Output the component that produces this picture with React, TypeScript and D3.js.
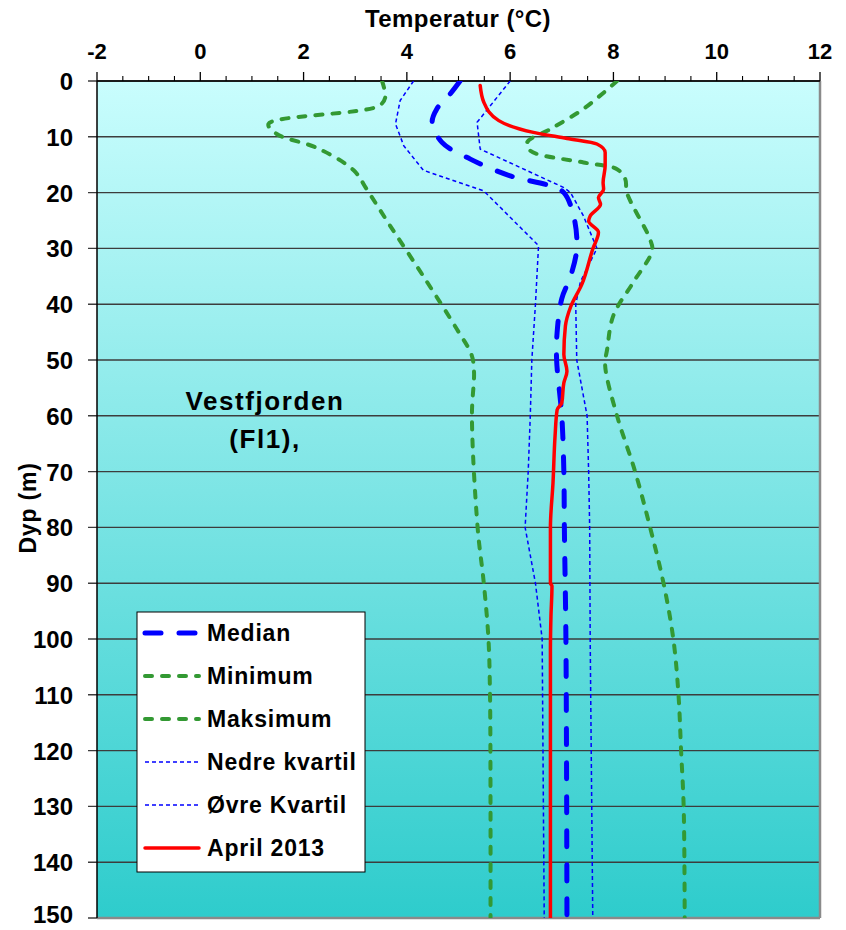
import * as d3 from 'd3'

const WIDTH = 846
const HEIGHT = 930
const PLOT = { left: 97, right: 820, top: 81, bottom: 918 }

const FONT = '"Liberation Sans", Arial, sans-serif'

const TEMP_TICKS = [-2, 0, 2, 4, 6, 8, 10, 12]
const DEPTH_TICKS = [0, 10, 20, 30, 40, 50, 60, 70, 80, 90, 100, 110, 120, 130, 140, 150]

// depth (m) / temperature (°C) pairs
const MEDIAN_DEPTH = [0, 2.3, 5, 7.4, 11, 14, 17, 18.8, 20, 24.2, 30, 35, 39, 45, 50, 60, 70, 80, 100, 150]
const MEDIAN_TEMP = [5.03, 4.84, 4.58, 4.49, 4.68, 5.23, 6.0, 6.78, 7.04, 7.23, 7.29, 7.17, 7.0, 6.91, 6.9, 7.0, 7.04, 7.05, 7.08, 7.1]

const MIN_DEPTH = [0, 3, 4.5, 7.7, 9.5, 12, 16, 19.5, 26, 35, 44.5, 49, 52, 60, 80, 90, 100, 110, 130, 150]
const MIN_TEMP = [3.52, 3.58, 3.45, 1.32, 1.48, 2.26, 2.97, 3.23, 3.68, 4.32, 4.97, 5.25, 5.3, 5.26, 5.37, 5.49, 5.58, 5.61, 5.62, 5.62]

const MAX_DEPTH = [0, 5, 8.6, 11, 12.5, 14.6, 15.8, 17.6, 20, 28.4, 30.4, 36, 42, 48, 51, 60, 70, 80, 90, 100, 110, 120, 130, 150]
const MAX_TEMP = [8.07, 7.42, 6.78, 6.33, 6.39, 7.42, 8.07, 8.23, 8.26, 8.71, 8.75, 8.39, 8.0, 7.88, 7.84, 8.07, 8.42, 8.71, 8.97, 9.16, 9.26, 9.31, 9.36, 9.38]

const LOWER_Q_DEPTH = [0, 3.5, 7.7, 11.6, 16, 19.7, 29.5, 40, 50, 60, 70, 80, 90, 100, 150]
const LOWER_Q_TEMP = [4.13, 3.87, 3.78, 3.94, 4.32, 5.49, 6.55, 6.49, 6.42, 6.39, 6.35, 6.29, 6.49, 6.62, 6.66]

const UPPER_Q_DEPTH = [0, 4.4, 7.4, 12.2, 19.1, 20, 24.2, 30, 36, 40, 50, 60, 70, 80, 100, 150]
const UPPER_Q_TEMP = [6.0, 5.62, 5.36, 5.42, 7.04, 7.17, 7.42, 7.68, 7.36, 7.27, 7.29, 7.49, 7.52, 7.54, 7.55, 7.6]

const APRIL_DEPTH = [0.8, 3.8, 7.1, 9.2, 10.3, 11.3, 12.8, 15.2, 18.2, 19.4, 20.9, 22.1, 24.2, 25.1, 27.1, 30.1, 36.4, 40.5, 43.9, 49, 52, 54.1, 57.7, 58.9, 63.6, 72, 80, 90, 90.5, 96, 102, 150]
const APRIL_TEMP = [5.42, 5.49, 5.78, 6.45, 7.1, 7.68, 7.84, 7.84, 7.8, 7.81, 7.71, 7.75, 7.55, 7.52, 7.71, 7.6, 7.39, 7.17, 7.07, 7.04, 7.1, 7.04, 7.0, 6.91, 6.87, 6.83, 6.78, 6.78, 6.81, 6.79, 6.78, 6.78]

const STYLES = {
  median: { stroke: '#0000ff', width: 5, dash: '16,18', cap: 'round' },
  green: { stroke: '#339933', width: 4, dash: '7,10', cap: 'round' },
  quartile: { stroke: '#0000ff', width: 1.5, dash: '4,3', cap: 'butt' },
  april: { stroke: '#ff0000', width: 3.5, dash: 'none', cap: 'round' }
}

const zip = (depth: number[], temp: number[]) => depth.map((d, i) => [d, temp[i]] as [number, number])

const SERIES = [
  { name: 'Minimum', pts: zip(MIN_DEPTH, MIN_TEMP), style: STYLES.green, curve: d3.curveCatmullRom },
  { name: 'Maksimum', pts: zip(MAX_DEPTH, MAX_TEMP), style: STYLES.green, curve: d3.curveCatmullRom },
  { name: 'Nedre kvartil', pts: zip(LOWER_Q_DEPTH, LOWER_Q_TEMP), style: STYLES.quartile, curve: d3.curveLinear },
  { name: 'Øvre Kvartil', pts: zip(UPPER_Q_DEPTH, UPPER_Q_TEMP), style: STYLES.quartile, curve: d3.curveLinear },
  { name: 'Median', pts: zip(MEDIAN_DEPTH, MEDIAN_TEMP), style: STYLES.median, curve: d3.curveCatmullRom },
  { name: 'April 2013', pts: zip(APRIL_DEPTH, APRIL_TEMP), style: STYLES.april, curve: d3.curveMonotoneY }
]

const LEGEND = [
  { label: 'Median', style: STYLES.median },
  { label: 'Minimum', style: STYLES.green },
  { label: 'Maksimum', style: STYLES.green },
  { label: 'Nedre kvartil', style: STYLES.quartile },
  { label: 'Øvre Kvartil', style: STYLES.quartile },
  { label: 'April 2013', style: STYLES.april }
]

export default function App() {
  const xScale = d3.scaleLinear().domain([-2, 12]).range([PLOT.left, PLOT.right])
  const yScale = d3.scaleLinear().domain([0, 150]).range([PLOT.top, PLOT.bottom])

  const minorTicks = d3.range(-2, 12.001, 0.5).filter(t => !TEMP_TICKS.includes(t))

  const lineFor = (curve: d3.CurveFactory) =>
    d3.line<[number, number]>()
      .x(d => xScale(d[1]))
      .y(d => yScale(d[0]))
      .curve(curve)

  const legendX = 137
  const legendY = 612
  const rowH = 43

  return (
    <div>
      <style>{`body{margin:0}`}</style>
      <svg width={WIDTH} height={HEIGHT} style={{ display: 'block' }}>
        <defs>
          <linearGradient id="bg" x1="0" y1="0" x2="0" y2="1">
            <stop offset="0%" stopColor="#c9fdfd" />
            <stop offset="100%" stopColor="#2ecccc" />
          </linearGradient>
          <clipPath id="plot-clip">
            <rect x={PLOT.left} y={PLOT.top} width={PLOT.right - PLOT.left} height={PLOT.bottom - PLOT.top} />
          </clipPath>
        </defs>

        <rect width={WIDTH} height={HEIGHT} fill="#ffffff" />
        <rect
          x={PLOT.left}
          y={PLOT.top}
          width={PLOT.right - PLOT.left}
          height={PLOT.bottom - PLOT.top}
          fill="url(#bg)"
        />

        {/* horizontal grid */}
        {DEPTH_TICKS.map(t => (
          <line key={`g-${t}`} x1={PLOT.left - 9} x2={PLOT.right} y1={yScale(t)} y2={yScale(t)} stroke="#3c3c3c" strokeWidth={1.4} />
        ))}

        {/* frame */}
        <line x1={PLOT.right} x2={PLOT.right} y1={PLOT.top} y2={PLOT.bottom} stroke="#8a8a8a" strokeWidth={2.5} />
        <line x1={PLOT.left} x2={PLOT.right} y1={PLOT.bottom} y2={PLOT.bottom} stroke="#8a8a8a" strokeWidth={2.5} />
        <line x1={PLOT.left} x2={PLOT.left} y1={PLOT.top} y2={PLOT.bottom} stroke="#000" strokeWidth={1.5} />
        <line x1={PLOT.left} x2={PLOT.right} y1={PLOT.top} y2={PLOT.top} stroke="#000" strokeWidth={1.5} />

        {/* top axis ticks */}
        {TEMP_TICKS.map(t => (
          <line key={`xt-${t}`} x1={xScale(t)} x2={xScale(t)} y1={PLOT.top - 9} y2={PLOT.top} stroke="#000" strokeWidth={1.3} />
        ))}
        {minorTicks.map(t => (
          <line key={`xm-${t}`} x1={xScale(t)} x2={xScale(t)} y1={PLOT.top - 5} y2={PLOT.top} stroke="#000" strokeWidth={1.1} />
        ))}

        {/* tick labels */}
        {TEMP_TICKS.map(t => (
          <text key={`xl-${t}`} x={xScale(t)} y={59} textAnchor="middle" fontFamily={FONT} fontWeight="bold" fontSize={22} fill="#000">
            {t}
          </text>
        ))}
        {DEPTH_TICKS.map(t => (
          <text
            key={`yl-${t}`}
            x={73}
            y={Math.min(yScale(t) + 9, HEIGHT - 7)}
            textAnchor="end"
            fontFamily={FONT}
            fontWeight="bold"
            fontSize={24}
            fill="#000"
          >
            {t}
          </text>
        ))}

        {/* axis titles */}
        <text x={458} y={27} textAnchor="middle" fontFamily={FONT} fontWeight="bold" fontSize={24} letterSpacing={0.4} fill="#000">
          Temperatur (°C)
        </text>
        <text
          transform={`translate(36, 508) rotate(-90)`}
          textAnchor="middle"
          fontFamily={FONT}
          fontWeight="bold"
          fontSize={23}
          letterSpacing={0.8}
          fill="#000"
        >
          Dyp (m)
        </text>

        {/* profiles */}
        <g clipPath="url(#plot-clip)">
          {SERIES.map(s => (
            <path
              key={s.name}
              d={lineFor(s.curve)(s.pts) || ''}
              fill="none"
              stroke={s.style.stroke}
              strokeWidth={s.style.width}
              strokeDasharray={s.style.dash}
              strokeLinecap={s.style.cap as any}
              strokeLinejoin="round"
            />
          ))}
        </g>

        {/* station label */}
        <text x={265} y={410} textAnchor="middle" fontFamily={FONT} fontWeight="bold" fontSize={26} letterSpacing={1.6} fill="#000">
          Vestfjorden
        </text>
        <text x={265} y={448} textAnchor="middle" fontFamily={FONT} fontWeight="bold" fontSize={26} letterSpacing={1.6} fill="#000">
          (Fl1),
        </text>

        {/* legend */}
        <rect x={legendX} y={legendY} width={228} height={260} fill="#ffffff" stroke="#000" strokeWidth={1} />
        {LEGEND.map((item, i) => {
          const cy = legendY + 21 + i * rowH
          return (
            <g key={item.label}>
              <line
                x1={145}
                x2={199}
                y1={cy}
                y2={cy}
                stroke={item.style.stroke}
                strokeWidth={item.style.width}
                strokeDasharray={item.style.dash}
                strokeLinecap={item.style.cap as any}
              />
              <text x={207} y={cy + 8} fontFamily={FONT} fontWeight="bold" fontSize={23} letterSpacing={0.8} fill="#000">
                {item.label}
              </text>
            </g>
          )
        })}
      </svg>
    </div>
  )
}
